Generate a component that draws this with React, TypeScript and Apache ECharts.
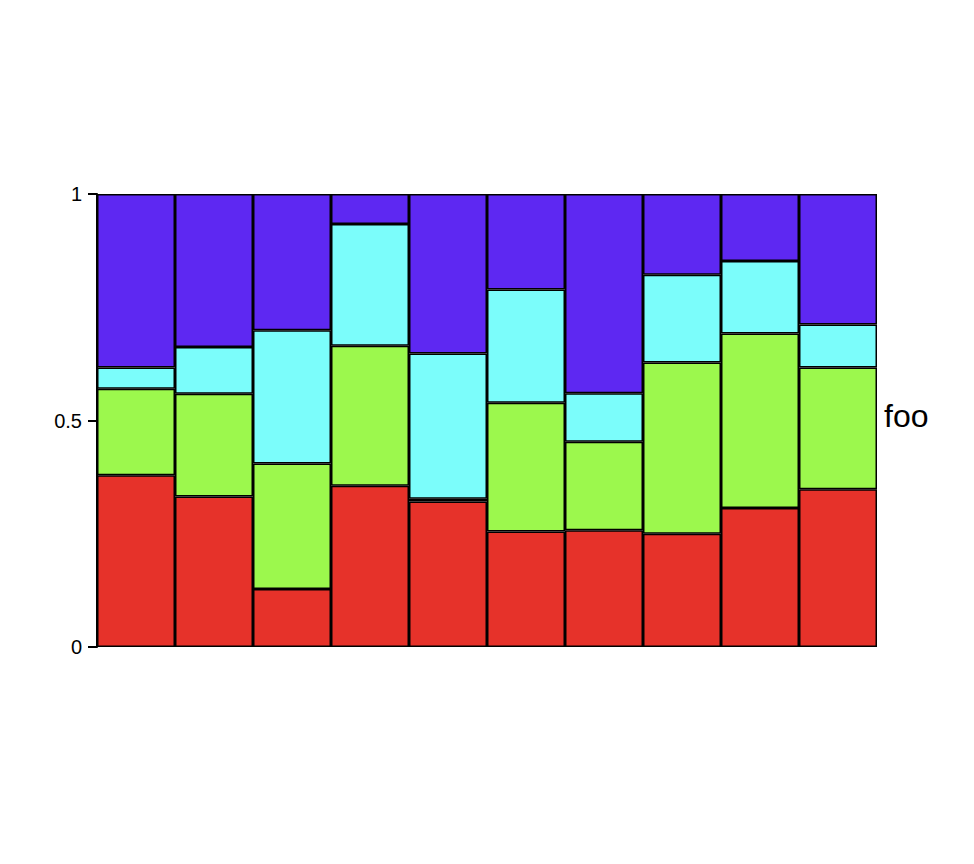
import React, { useEffect, useRef } from "react";
import * as echarts from "echarts";

const categories = ["1", "2", "3", "4", "5", "6", "7", "8", "9", "10"];
const redValues = [0.379, 0.332, 0.128, 0.356, 0.321, 0.255, 0.258, 0.25, 0.307, 0.348];
const greenValues = [0.191, 0.227, 0.277, 0.309, 0.006, 0.284, 0.195, 0.378, 0.385, 0.269];
const cyanValues = [0.047, 0.103, 0.294, 0.269, 0.321, 0.25, 0.107, 0.194, 0.16, 0.095];
const purpleValues = [0.383, 0.338, 0.301, 0.066, 0.352, 0.211, 0.44, 0.178, 0.148, 0.288];
const sideLabel = "foo";

const seriesDefs = [
  { name: "red", data: redValues, color: "#E6322A" },
  { name: "green", data: greenValues, color: "#9CF84D" },
  { name: "cyan", data: cyanValues, color: "#7BFDFB" },
  { name: "purple", data: purpleValues, color: "#5E28F2" },
];

const FONT = "'Liberation Sans', Arial, sans-serif";

export default function App() {
  const ref = useRef<HTMLDivElement>(null);
  useEffect(() => {
    if (!ref.current) return;
    const chart = echarts.init(ref.current, null, { renderer: "svg" });
    chart.setOption({
      animation: false,
      backgroundColor: "#ffffff",
      grid: { left: 97, right: 97, top: 194, bottom: 217 },
      xAxis: {
        type: "category",
        data: categories,
        axisLine: { show: false },
        axisTick: { show: false },
        axisLabel: { show: false },
      },
      yAxis: {
        type: "value",
        min: 0,
        max: 1,
        interval: 0.5,
        axisLine: { show: true, lineStyle: { color: "#000", width: 2 } },
        axisTick: { show: true, length: 9, lineStyle: { color: "#000", width: 2 } },
        axisLabel: {
          show: true,
          color: "#000",
          fontSize: 20,
          fontFamily: FONT,
          margin: 15,
        },
        splitLine: { show: false },
      },
      graphic: [
        {
          type: "text",
          left: 884,
          top: 400,
          style: {
            text: sideLabel,
            fontSize: 32,
            fontFamily: FONT,
            fill: "#000",
          },
        },
      ],
      series: seriesDefs.map((s) => ({
        name: s.name,
        type: "bar",
        stack: "total",
        data: s.data,
        barCategoryGap: 0,
        barGap: 0,
        itemStyle: { color: s.color, borderColor: "#000", borderWidth: 1.5 },
      })),
    });
    return () => chart.dispose();
  }, []);
  return (
    <div
      ref={ref}
      style={{ position: "fixed", left: 0, top: 0, width: 974, height: 864 }}
    />
  );
}
